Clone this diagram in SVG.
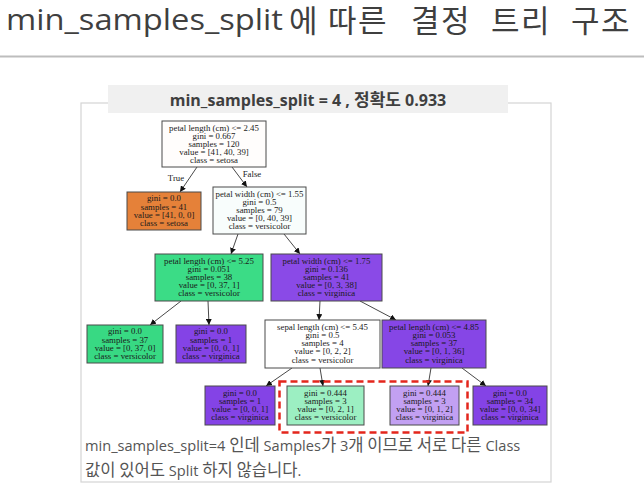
<svg xmlns="http://www.w3.org/2000/svg" width="644" height="488" viewBox="0 0 644 488">
<defs>
<marker id="ah" viewBox="0 0 10 10" refX="10" refY="5" markerWidth="6" markerHeight="6" orient="auto" markerUnits="userSpaceOnUse">
<path d="M0,0 L10,5 L0,10 z" fill="#111"/>
</marker>
<style>
.nb{stroke:#4a4a4a;stroke-width:1}
.nt{font-family:"Liberation Serif","Times New Roman",serif;font-size:8.8px;fill:#1a1a1a;text-anchor:middle}
.edge{stroke:#333;stroke-width:0.9;fill:none;marker-end:url(#ah)}
.el{font-family:"Liberation Serif","Times New Roman",serif;font-size:8.8px;fill:#1a1a1a;text-anchor:middle}
.sans{font-family:"Open Sans","Noto Sans CJK KR",sans-serif}
.ko{font-family:"Noto Sans CJK KR",sans-serif}
</style>
</defs>
<rect width="644" height="488" fill="#ffffff"/>
<g fill="#3f3f3f">
<text x="6" y="30" class="sans" font-size="30" textLength="277" lengthAdjust="spacingAndGlyphs">min_samples_split</text>
<text class="ko" font-size="31" y="31.5" letter-spacing="1.5"><tspan x="289">에</tspan><tspan x="328">따른</tspan><tspan x="411">결정</tspan><tspan x="491">트리</tspan><tspan x="571">구조</tspan></text>
</g>
<line x1="0" y1="56.5" x2="644" y2="56.5" stroke="#bdbdbd" stroke-width="2"/>
<rect x="81" y="103" width="470" height="379" fill="none" stroke="#d4d4d4" stroke-width="1.2"/>
<rect x="108" y="85" width="400" height="28" fill="#f0f0f0"/>
<text x="308" y="106" text-anchor="middle" class="sans" font-weight="bold" font-size="16" fill="#3f3f3f">min_samples_split = 4 , <tspan class="ko" font-size="17">정확도</tspan> 0.933</text>

<g id="connectors">
<line class="edge" x1="197" y1="167" x2="180" y2="192"/>
<line class="edge" x1="232" y1="167" x2="247" y2="187"/>
<text class="el" x="176" y="181">True</text>
<text class="el" x="252" y="177">False</text>
<line class="edge" x1="238" y1="234" x2="231" y2="254"/>
<line class="edge" x1="284" y1="234" x2="300" y2="254"/>
<line class="edge" x1="181" y1="301" x2="150" y2="325"/>
<line class="edge" x1="208" y1="301" x2="209" y2="325"/>
<line class="edge" x1="320" y1="301" x2="319" y2="320"/>
<line class="edge" x1="360" y1="301" x2="396" y2="320"/>
<line class="edge" x1="292" y1="368" x2="266" y2="386"/>
<line class="edge" x1="320" y1="368" x2="323" y2="386"/>
<line class="edge" x1="431" y1="368" x2="428" y2="386"/>
<line class="edge" x1="462" y1="368" x2="486" y2="386"/>
</g>

<g id="n0"><rect class="nb" x="162" y="121" width="104" height="46" fill="#fffdfc"/>
<text class="nt" x="214" y="130.5">petal length (cm) &lt;= 2.45</text>
<text class="nt" x="214" y="138.7">gini = 0.667</text>
<text class="nt" x="214" y="146.9">samples = 120</text>
<text class="nt" x="214" y="155.1">value = [41, 40, 39]</text>
<text class="nt" x="214" y="163.3">class = setosa</text></g>

<g id="n1"><rect class="nb" x="127" y="192" width="74" height="38" fill="#e58139"/>
<text class="nt" x="164" y="201.2">gini = 0.0</text>
<text class="nt" x="164" y="209.5">samples = 41</text>
<text class="nt" x="164" y="217.8">value = [41, 0, 0]</text>
<text class="nt" x="164" y="226.1">class = setosa</text></g>

<g id="n2"><rect class="nb" x="213" y="187" width="93" height="47" fill="#f8fdfc"/>
<text class="nt" x="259.5" y="196.5">petal width (cm) &lt;= 1.55</text>
<text class="nt" x="259.5" y="204.7">gini = 0.5</text>
<text class="nt" x="259.5" y="212.9">samples = 79</text>
<text class="nt" x="259.5" y="221.1">value = [0, 40, 39]</text>
<text class="nt" x="259.5" y="229.3">class = versicolor</text></g>

<g id="n3"><rect class="nb" x="155" y="254" width="108" height="47" fill="#3bdc86"/>
<text class="nt" x="209" y="263.5">petal length (cm) &lt;= 5.25</text>
<text class="nt" x="209" y="271.7">gini = 0.051</text>
<text class="nt" x="209" y="279.9">samples = 38</text>
<text class="nt" x="209" y="288.1">value = [0, 37, 1]</text>
<text class="nt" x="209" y="296.3">class = versicolor</text></g>

<g id="n4"><rect class="nb" x="271" y="254" width="111" height="47" fill="#8a4ae7"/>
<text class="nt" x="326.5" y="263.5">petal width (cm) &lt;= 1.75</text>
<text class="nt" x="326.5" y="271.7">gini = 0.136</text>
<text class="nt" x="326.5" y="279.9">samples = 41</text>
<text class="nt" x="326.5" y="288.1">value = [0, 3, 38]</text>
<text class="nt" x="326.5" y="296.3">class = virginica</text></g>

<g id="n5"><rect class="nb" x="87" y="325" width="76" height="38" fill="#38d983"/>
<text class="nt" x="125" y="334.2">gini = 0.0</text>
<text class="nt" x="125" y="342.5">samples = 37</text>
<text class="nt" x="125" y="350.8">value = [0, 37, 0]</text>
<text class="nt" x="125" y="359.1">class = versicolor</text></g>

<g id="n6"><rect class="nb" x="176" y="325" width="70" height="38" fill="#8443e6"/>
<text class="nt" x="211" y="334.2">gini = 0.0</text>
<text class="nt" x="211" y="342.5">samples = 1</text>
<text class="nt" x="211" y="350.8">value = [0, 0, 1]</text>
<text class="nt" x="211" y="359.1">class = virginica</text></g>

<g id="n7"><rect class="nb" x="265" y="320" width="115" height="48" fill="#ffffff"/>
<text class="nt" x="322.5" y="329.5">sepal length (cm) &lt;= 5.45</text>
<text class="nt" x="322.5" y="337.8">gini = 0.5</text>
<text class="nt" x="322.5" y="346.1">samples = 4</text>
<text class="nt" x="322.5" y="354.4">value = [0, 2, 2]</text>
<text class="nt" x="322.5" y="362.7">class = versicolor</text></g>

<g id="n8"><rect class="nb" x="382" y="320" width="104" height="48" fill="#8646e6"/>
<text class="nt" x="434" y="329.5">petal length (cm) &lt;= 4.85</text>
<text class="nt" x="434" y="337.8">gini = 0.053</text>
<text class="nt" x="434" y="346.1">samples = 37</text>
<text class="nt" x="434" y="354.4">value = [0, 1, 36]</text>
<text class="nt" x="434" y="362.7">class = virginica</text></g>

<g id="n9"><rect class="nb" x="205" y="386" width="70" height="39" fill="#8443e6"/>
<text class="nt" x="240" y="395.5">gini = 0.0</text>
<text class="nt" x="240" y="403.8">samples = 1</text>
<text class="nt" x="240" y="412.1">value = [0, 0, 1]</text>
<text class="nt" x="240" y="420.4">class = virginica</text></g>

<g id="n10"><rect class="nb" x="287" y="386" width="77" height="39" fill="#9cefc2"/>
<text class="nt" x="325.5" y="395.5">gini = 0.444</text>
<text class="nt" x="325.5" y="403.8">samples = 3</text>
<text class="nt" x="325.5" y="412.1">value = [0, 2, 1]</text>
<text class="nt" x="325.5" y="420.4">class = versicolor</text></g>

<g id="n11"><rect class="nb" x="390" y="386" width="69" height="39" fill="#c2a0f2"/>
<text class="nt" x="424.5" y="395.5">gini = 0.444</text>
<text class="nt" x="424.5" y="403.8">samples = 3</text>
<text class="nt" x="424.5" y="412.1">value = [0, 1, 2]</text>
<text class="nt" x="424.5" y="420.4">class = virginica</text></g>

<g id="n12"><rect class="nb" x="473" y="386" width="74" height="39" fill="#8443e6"/>
<text class="nt" x="510" y="395.5">gini = 0.0</text>
<text class="nt" x="510" y="403.8">samples = 34</text>
<text class="nt" x="510" y="412.1">value = [0, 0, 34]</text>
<text class="nt" x="510" y="420.4">class = virginica</text></g>

<rect x="279.5" y="381.5" width="188" height="51" fill="none" stroke="#e3261c" stroke-width="2.5" stroke-dasharray="7,4"/>

<g fill="#555555" class="sans" font-size="14.6">
<text x="85" y="451">min_samples_split=4 <tspan class="ko" font-size="16.6">인데</tspan> Samples<tspan class="ko" font-size="16.6">가</tspan> 3<tspan class="ko" font-size="16.6">개 이므로 서로 다른</tspan> Class</text>
<text x="85" y="476"><tspan class="ko" font-size="16.6">값이 있어도</tspan> Split <tspan class="ko" font-size="16.6">하지 않습니다</tspan>.</text>
</g>
</svg>
